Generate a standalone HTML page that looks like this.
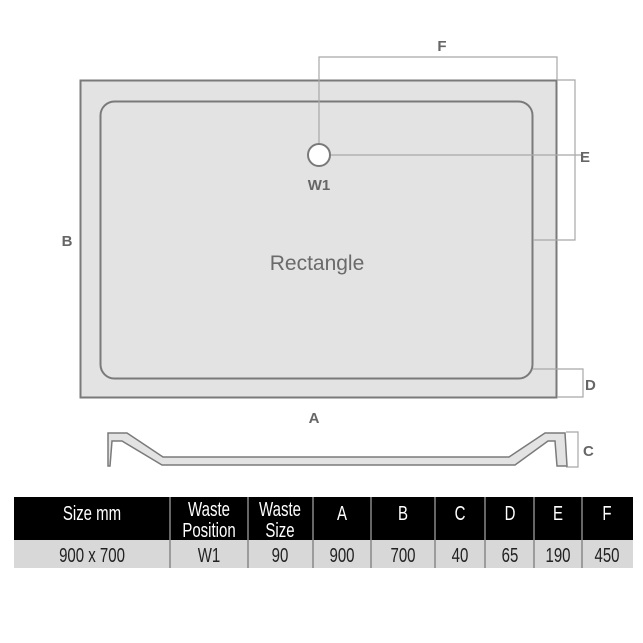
<!DOCTYPE html>
<html><head><meta charset="utf-8"><style>
body{margin:0;background:#fff;width:643px;height:643px;overflow:hidden}
svg{position:absolute;left:0;top:0}
</style></head><body>
<svg width="643" height="643" viewBox="0 0 643 643" font-family="Liberation Sans, sans-serif">
<rect x="80.5" y="80.5" width="476" height="317" fill="#e3e3e3" stroke="#7a7a7a" stroke-width="2"/>
<rect x="100.5" y="101.5" width="432" height="277" rx="14" fill="#e3e3e3" stroke="#7a7a7a" stroke-width="2"/>
<g stroke="#a8a8a8" stroke-width="1.2" fill="none">
<polyline points="319,155 319,57 557,57 557,80"/>
<polyline points="557,80 575,80 575,240 533,240"/>
<line x1="330" y1="155" x2="583" y2="155"/>
<polyline points="533,369 583,369 583,397 557,397"/>
<polyline points="566,432 578,432 578,467 566,467"/>
</g>
<circle cx="319" cy="155" r="11" fill="#fff" stroke="#7a7a7a" stroke-width="2"/>
<g fill="#666" font-weight="bold" font-size="15">
<text x="442" y="51" text-anchor="middle">F</text>
<text x="580" y="162">E</text>
<text x="585" y="390">D</text>
<text x="583" y="456">C</text>
<text x="67" y="246" text-anchor="middle">B</text>
<text x="314" y="423" text-anchor="middle">A</text>
<text x="319" y="190" text-anchor="middle">W1</text>
</g>
<text x="317" y="270" text-anchor="middle" font-size="21" fill="#6a6a6a">Rectangle</text>
<polygon points="108,433 127,433 163,457 509,457 545,433 565,433 567,466 557,466 555,441 548,441 515,465 162,465 122,441 112,441 110,466 108,466" fill="#e3e3e3" stroke="#7a7a7a" stroke-width="1.5"/>
<rect x="14" y="497" width="619" height="43" fill="#000"/>
<rect x="14" y="540" width="619" height="28" fill="#d8d8d8"/>
<g stroke="#888" stroke-width="1.5">
<line x1="170" y1="497" x2="170" y2="568"/><line x1="248" y1="497" x2="248" y2="568"/>
<line x1="313" y1="497" x2="313" y2="568"/><line x1="371" y1="497" x2="371" y2="568"/>
<line x1="435" y1="497" x2="435" y2="568"/><line x1="485" y1="497" x2="485" y2="568"/>
<line x1="534" y1="497" x2="534" y2="568"/><line x1="582" y1="497" x2="582" y2="568"/>
</g>
<g fill="#fff" font-size="20" text-anchor="middle">
<text transform="translate(92,520) scale(0.75,1)">Size mm</text>
<text transform="translate(209,516) scale(0.75,1)">Waste</text>
<text transform="translate(209,537) scale(0.75,1)">Position</text>
<text transform="translate(280,516) scale(0.75,1)">Waste</text>
<text transform="translate(280,537) scale(0.75,1)">Size</text>
<text transform="translate(342,520) scale(0.75,1)">A</text>
<text transform="translate(403,520) scale(0.75,1)">B</text>
<text transform="translate(460,520) scale(0.75,1)">C</text>
<text transform="translate(510,520) scale(0.75,1)">D</text>
<text transform="translate(558,520) scale(0.75,1)">E</text>
<text transform="translate(607,520) scale(0.75,1)">F</text>
</g>
<g fill="#222" font-size="20" text-anchor="middle">
<text transform="translate(92,562) scale(0.75,1)">900 x 700</text>
<text transform="translate(209,562) scale(0.75,1)">W1</text>
<text transform="translate(280,562) scale(0.75,1)">90</text>
<text transform="translate(342,562) scale(0.75,1)">900</text>
<text transform="translate(403,562) scale(0.75,1)">700</text>
<text transform="translate(460,562) scale(0.75,1)">40</text>
<text transform="translate(510,562) scale(0.75,1)">65</text>
<text transform="translate(558,562) scale(0.75,1)">190</text>
<text transform="translate(607,562) scale(0.75,1)">450</text>
</g>
</svg>
</body></html>
